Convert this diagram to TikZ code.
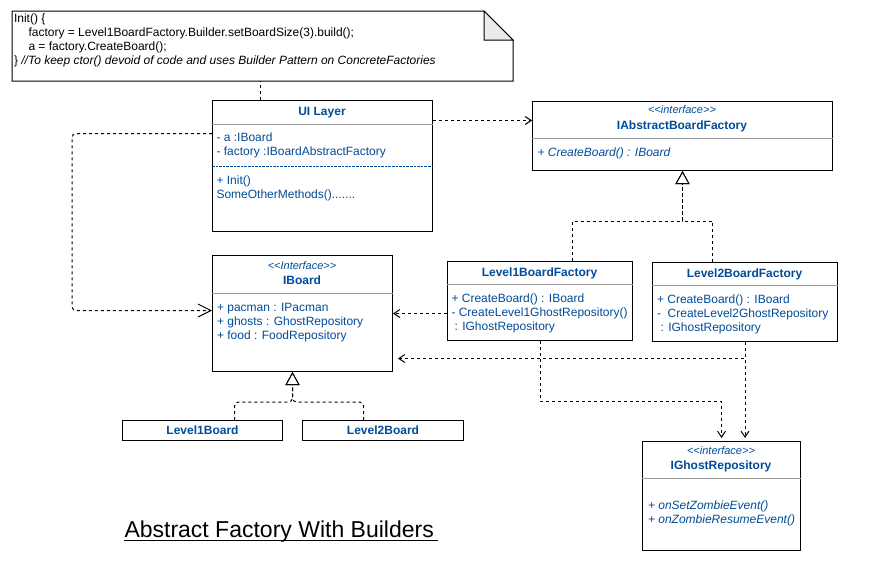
\documentclass[tikz,border=0pt]{standalone}
\usepackage{fontspec}
\setmainfont{Liberation Sans}[Ligatures=TeXOff]
\usetikzlibrary{arrows.meta}
\definecolor{blu}{HTML}{004C99}
\definecolor{sepc}{HTML}{999999}
\definecolor{foldc}{HTML}{EBEBEB}
\begin{document}
\begin{tikzpicture}[x=1pt,y=-1pt,line width=1pt,
  box/.style={draw=black,fill=white,rectangle,inner sep=0pt,anchor=north west},
  tx/.style={inner sep=0pt,anchor=base west,font=\fontsize{12}{14}\selectfont,text=blu},
  txi/.style={tx,font=\fontsize{12}{14}\selectfont\itshape},
  ttl/.style={inner sep=0pt,anchor=base,font=\fontsize{12}{14}\selectfont\bfseries,text=blu},
  ster/.style={inner sep=0pt,anchor=base,font=\fontsize{11}{13}\selectfont\itshape,text=blu},
  hsep/.style={draw=sepc,line width=1pt},
  dep/.style={draw=black,dash pattern=on 3pt off 3pt,-{Straight Barb[length=6pt,width=8pt]}},
  bigdep/.style={draw=black,dash pattern=on 3pt off 3pt,-{Straight Barb[length=13pt,width=13pt]}},
  real/.style={draw=black,dash pattern=on 3pt off 3pt,-{Triangle[open,fill=white,length=13pt,width=14pt]}}]
\useasboundingbox (0,0) rectangle (874,584);
\fill[white] (0,0) rectangle (874,584);

% note
\node[box,draw=none,fill=none,minimum width=500pt,minimum height=69pt] (note) at (12,11) {};
\draw[fill=white] (note.north west) -- ([xshift=-29pt]note.north east) -- ([yshift=-29pt]note.north east) -- (note.south east) -- (note.south west) -- cycle;
\draw[fill=foldc] ([xshift=-29pt]note.north east) -- ([xshift=-29pt,yshift=-29pt]note.north east) -- ([yshift=-29pt]note.north east) -- cycle;
\node[tx,text=black] (n1) at (13.5,22) {Init() \{};
\node[tx,text=black] (n2) at (28,36) {factory = Level1BoardFactory.Builder.setBoardSize(3).build();};
\node[tx,text=black] (n3) at (28,50) {a = factory.CreateBoard();};
\node[tx,text=black] (n4) at (13.5,64) {\} \textit{//To keep ctor() devoid of code and uses Builder Pattern on ConcreteFactories}};

% UI Layer
\node[box,minimum width=220pt,minimum height=131pt] (ui) at (212,100) {};
\draw[hsep] ([yshift=-24pt]ui.north west) -- ([yshift=-24pt]ui.north east);
\node[ttl] (uit) at (322,115) {UI Layer};
\node[tx] (ua1) at (216,141.5) {- a :IBoard};
\node[tx] (ua2) at (216,155.5) {- factory :IBoardAbstractFactory};
\draw[blu,line width=0.7pt,dash pattern=on 2.6pt off 1pt] ([yshift=-66pt]ui.north west) -- ([yshift=-66pt]ui.north east);
\node[tx] (um1) at (216,184) {+ Init()};
\node[tx] (um2) at (216,198) {SomeOtherMethods().......};

% IAbstractBoardFactory
\node[box,minimum width=300pt,minimum height=69pt] (iab) at (532,101) {};
\draw[hsep] ([yshift=-37pt]iab.north west) -- ([yshift=-37pt]iab.north east);
\node[ster] (iabs) at (682,113) {\textless\kern0pt\textless interface\textgreater\kern0pt\textgreater};
\node[ttl] (iabt) at (682,129) {IAbstractBoardFactory};
\node[txi] (iabm) at (537,156) {+ CreateBoard() : IBoard};

% Level1BoardFactory
\node[box,minimum width=185pt,minimum height=79pt] (l1f) at (447,261) {};
\draw[hsep] ([yshift=-23pt]l1f.north west) -- ([yshift=-23pt]l1f.north east);
\node[ttl] (l1ft) at (539.5,276) {Level1BoardFactory};
\node[tx] (l1fm1) at (451,302) {+ CreateBoard() : IBoard};
\node[tx] (l1fm2) at (451,316) {- CreateLevel1GhostRepository()};
\node[tx] (l1fm3) at (454,330) {: IGhostRepository};

% Level2BoardFactory
\node[box,minimum width=185pt,minimum height=79pt] (l2f) at (652,262) {};
\draw[hsep] ([yshift=-23pt]l2f.north west) -- ([yshift=-23pt]l2f.north east);
\node[ttl] (l2ft) at (744.5,277) {Level2BoardFactory};
\node[tx] (l2fm1) at (656.5,303) {+ CreateBoard() : IBoard};
\node[tx] (l2fm2) at (656.5,317) {-\ \ CreateLevel2GhostRepository};
\node[tx] (l2fm3) at (660,331) {: IGhostRepository};

% IBoard
\node[box,minimum width=180pt,minimum height=116pt] (ib) at (212,255) {};
\draw[hsep] ([yshift=-38pt]ib.north west) -- ([yshift=-38pt]ib.north east);
\node[ster] (ibs) at (302,269) {\textless\kern0pt\textless Interface\textgreater\kern0pt\textgreater};
\node[ttl] (ibt) at (302,284) {IBoard};
\node[tx] (iba1) at (216.5,311) {+ pacman : IPacman};
\node[tx] (iba2) at (216.5,325) {+ ghosts : GhostRepository};
\node[tx] (iba3) at (216.5,339) {+ food : FoodRepository};

% Level boards
\node[box,minimum width=160pt,minimum height=20pt,font=\fontsize{12}{14}\selectfont\bfseries,text=blu] (lb1) at (122,420) {Level1Board};
\node[box,minimum width=161pt,minimum height=20pt,font=\fontsize{12}{14}\selectfont\bfseries,text=blu] (lb2) at (302,420) {Level2Board};

% IGhostRepository
\node[box,minimum width=158pt,minimum height=109pt] (ig) at (642,441) {};
\draw[hsep] ([yshift=-37pt]ig.north west) -- ([yshift=-37pt]ig.north east);
\node[ster] (igs) at (721,454) {\textless\kern0pt\textless interface\textgreater\kern0pt\textgreater};
\node[ttl] (igt) at (721,469) {IGhostRepository};
\node[txi] (igm1) at (647.5,509) {+ onSetZombieEvent()};
\node[txi] (igm2) at (647.5,523) {+ onZombieResumeEvent()};

% title
\node[inner sep=0pt,anchor=base west,font=\fontsize{23}{27}\selectfont,text=black] (title) at (124,537) {Abstract Factory With Builders};
\draw[line width=1pt] ([yshift=-3.5pt]title.base west) -- ++(314,0);

% connectors
\draw[dash pattern=on 3pt off 3pt] ([xshift=-62pt]ui.north) -- ([xshift=-62pt]ui.north |- note.south);
\draw[dep] ([yshift=15.5pt]iab.west -| ui.east) -- ([yshift=15.5pt]iab.west);
\draw[bigdep,rounded corners=4pt] ([yshift=32.5pt]ui.west) -- ++(-140,0) |- ([yshift=3pt]ib.west);
\draw[dep] (ib.east -| l1f.west) -- (ib.east);
\draw[dep,shorten >=5pt] (l2f.south) |- ([yshift=-45pt]ib.east);
\draw[dep,shorten >=3pt] (l2f.south) -- (l2f.south |- ig.north);
\draw[dep,shorten >=3pt] (l1f.south) -- ++(0,60) -| (ig.north);
\draw[real] ([xshift=32.5pt]l1f.north) |- ([yshift=-50pt]iab.south) -- (iab.south);
\draw[real] ([xshift=-32.5pt]l2f.north) |- ([yshift=-50pt]iab.south) -- (iab.south);
\draw[real,rounded corners=4pt] ([xshift=32pt]lb1.north) |- ([xshift=-10pt,yshift=-30pt]ib.south) -- ([xshift=-10pt]ib.south);
\draw[real,rounded corners=4pt] ([xshift=-19.5pt]lb2.north) |- ([xshift=-10pt,yshift=-30pt]ib.south) -- ([xshift=-10pt]ib.south);
\end{tikzpicture}
\end{document}
